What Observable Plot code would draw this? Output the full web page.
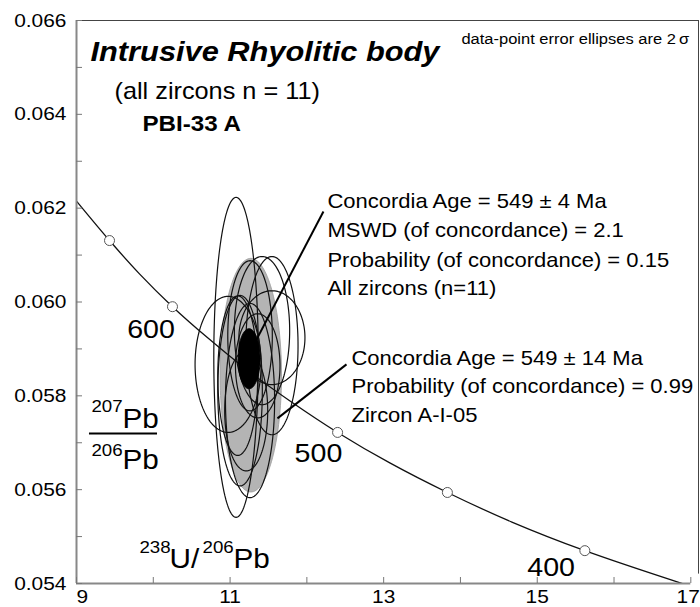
<!DOCTYPE html>
<html><head><meta charset="utf-8">
<script src="https://cdn.jsdelivr.net/npm/d3@7"></script>
<script src="https://cdn.jsdelivr.net/npm/@observablehq/plot@0.6"></script>
<style>body{margin:0;background:#fff} svg{display:block}</style>
</head><body><div id="chart"></div>
<script>
// ---- Concordia curve (238U/206Pb vs 207Pb/206Pb)
const curveX = [9.0, 9.43, 9.82, 10.25, 10.72, 11.23, 11.79, 12.40, 13.08, 13.83, 14.67, 15.62, 17.0];
const curveY = [0.06215, 0.06131, 0.06060, 0.05990, 0.05922, 0.05854, 0.05788, 0.05722, 0.05657, 0.05594, 0.05531, 0.05470, 0.05394];

// ---- age markers on the curve (Ma)
const markerAge = [650, 600, 550, 500, 450, 400];
const markerX = [9.43, 10.25, 11.23, 12.40, 13.83, 15.62];
const markerY = [0.06131, 0.05990, 0.05854, 0.05722, 0.05594, 0.05470];
const ageLabels = ["600", "500", "400"];
const ageLabelX = [9.66, 11.84, 14.87];
const ageLabelY = [0.05924, 0.05658, 0.05417];

// ---- data-point error ellipses (2 sigma): centre and half-axes
const ellCX = [11.078, 10.974, 11.545, 11.416, 11.545, 11.26, 11.13, 11.26, 11.10, 11.36, 11.21];
const ellCY = [0.05882, 0.05867, 0.05924, 0.05939, 0.05907, 0.05928, 0.05811, 0.05790, 0.05843, 0.05864, 0.05768];
const ellSX = [0.29, 0.43, 0.43, 0.36, 0.34, 0.29, 0.29, 0.32, 0.26, 0.29, 0.28];
const ellSY = [0.00341, 0.00145, 0.00100, 0.00158, 0.00190, 0.00160, 0.00203, 0.00207, 0.00170, 0.00111, 0.00128];

// ---- concordia age ellipses
const grayEll = {cx: 11.27, cy: 0.05844, sx: 0.40, sy: 0.00249};   // Zircon A-I-05, 549 ± 14 Ma
const blackEll = {cx: 11.247, cy: 0.05879, sx: 0.143, sy: 0.00064}; // all zircons, 549 ± 4 Ma

// ---- ticks
const xTickLabels = [11, 13, 15];
const xFirstLabel = 9, xLastLabel = 17;
const xTicks = [9, 10, 11, 12, 13, 14, 15, 16, 17];
const yTickLabels = [0.054, 0.056, 0.058, 0.060, 0.062, 0.064, 0.066];
const yTicks = [0.054, 0.055, 0.056, 0.057, 0.058, 0.059, 0.060, 0.061, 0.062, 0.063, 0.064, 0.065, 0.066];

// ---- annotations
const block1 = ["Concordia Age = 549 ± 4 Ma", "MSWD (of concordance) = 2.1", "Probability (of concordance) = 0.15", "All zircons (n=11)"];
const block1Y = [0.062014, 0.061375, 0.060747, 0.060139];
const block2 = ["Concordia Age = 549 ± 14 Ma", "Probability (of concordance) = 0.99", "Zircon A-I-05"];
const block2Y = [0.058647, 0.058050, 0.057432];
const leaderX1 = [11.28, 11.617], leaderY1 = [0.05900, 0.05752];
const leaderX2 = [12.216, 12.516], leaderY2 = [0.06193, 0.05867];

function ellipse(id, cx, cy, sx, sy) {
  return d3.range(0, 145).map(i => {
    const t = i / 144 * 2 * Math.PI;
    return {id, x: cx + sx * Math.cos(t), y: cy + sy * Math.sin(t)};
  });
}
const dataPts = ellCX.flatMap((cx, i) => ellipse(i, cx, ellCY[i], ellSX[i], ellSY[i]));
const grayPts = ellipse("g", grayEll.cx, grayEll.cy, grayEll.sx, grayEll.sy);
const blackPts = ellipse("b", blackEll.cx, blackEll.cy, blackEll.sx, blackEll.sy);
const curve = curveX.map((x, i) => ({x, y: curveY[i]}));
const markers = markerAge.map((a, i) => ({age: a, x: markerX[i], y: markerY[i]}));
const leaders = leaderX1.map((x, i) => ({x1: x, y1: leaderY1[i], x2: leaderX2[i], y2: leaderY2[i]}));

const T = (data, o) => Plot.text(data, {textAnchor: "start", lineAnchor: "bottom", fill: "#000", ...o});

const chart = Plot.plot({
  width: 700, height: 607,
  marginLeft: 76, marginRight: 2, marginTop: 20, marginBottom: 24,
  x: {domain: [9, 17.1], axis: null},
  y: {domain: [0.054, 0.066], axis: null},
  style: {fontFamily: "'Liberation Sans', Arial, sans-serif", background: "#fff", overflow: "hidden"},
  marks: [
    Plot.line(grayPts, {x: "x", y: "y", fill: "#b4b4b4", stroke: "#9a9a9a", strokeWidth: 0.8}),
    Plot.line(dataPts, {x: "x", y: "y", z: "id", stroke: "#111", strokeWidth: 1.2, fill: "none"}),
    Plot.line(curve, {x: "x", y: "y", stroke: "#111", strokeWidth: 1.3, curve: "catmull-rom", clip: true}),
    Plot.dot(markers, {x: "x", y: "y", r: 5, fill: "#fff", stroke: "#555", strokeWidth: 1}),
    Plot.line(blackPts, {x: "x", y: "y", fill: "#000", stroke: "#000", strokeWidth: 1}),
    Plot.link(leaders, {x1: "x1", y1: "y1", x2: "x2", y2: "y2", stroke: "#000", strokeWidth: 2}),
    // frame
    Plot.ruleY([0.066], {x1: 9, x2: 17.1, stroke: "#444", strokeWidth: 1}),
    Plot.ruleX([17.1], {y1: 0.0542, y2: 0.066, stroke: "#444", strokeWidth: 1}),
    Plot.ruleX([9], {y1: 0.054, y2: 0.066, stroke: "#888", strokeWidth: 2}),
    Plot.ruleY([0.054], {x1: 9, x2: 17, stroke: "#888", strokeWidth: 2}),
    // inward ticks
    Plot.ruleY(yTicks, {y: d => d, x1: 9, x2: 9, insetRight: -6, stroke: "#777", strokeWidth: 1}),
    Plot.ruleX(xTicks, {x: d => d, y1: 0.054, y2: 0.054, insetBottom: 6, stroke: "#777", strokeWidth: 1}),
    // tick labels
    Plot.text(yTickLabels, {x: 9, y: d => d, text: d => d3.format(".3f")(d), textAnchor: "end", dx: -10, fontSize: 19, fill: "#000"}),
    Plot.text(xTickLabels, {x: d => d, y: 0.054, text: d => String(d), lineAnchor: "top", dy: 6, fontSize: 19, fill: "#000"}),
    Plot.text([xFirstLabel], {x: d => d, y: 0.054, text: d => String(d), textAnchor: "start", lineAnchor: "top", dy: 6, fontSize: 19, fill: "#000"}),
    Plot.text([xLastLabel], {x: d => d, y: 0.054, text: d => String(d), textAnchor: "end", dx: 9, lineAnchor: "top", dy: 6, fontSize: 19, fill: "#000"}),
    // titles
    T(["Intrusive Rhyolitic body"], {x: 9.182, y: 0.065147, text: d => d, fontSize: 28, fontWeight: "bold", fontStyle: "italic"}),
    T(["data-point error ellipses are 2\u2009σ"], {x: 14.013, y: 0.065503, text: d => d, fontSize: 15}),
    T(["(all zircons n = 11)"], {x: 9.495, y: 0.064337, text: d => d, fontSize: 23}),
    T(["PBI-33 A"], {x: 9.859, y: 0.063655, text: d => d, fontSize: 22, fontWeight: "bold"}),
    // result blocks
    T(block1, {x: 12.268, y: (d, i) => block1Y[i], text: d => d, fontSize: 20}),
    T(block2, {x: 12.581, y: (d, i) => block2Y[i], text: d => d, fontSize: 20}),
    // age labels
    T(ageLabels, {x: (d, i) => ageLabelX[i], y: (d, i) => ageLabelY[i], text: d => d, fontSize: 26}),
    // axis titles
    T(["207"], {x: 9.195, y: 0.057645, text: d => d, fontSize: 17}),
    T(["Pb"], {x: 9.599, y: 0.057304, text: d => d, fontSize: 27}),
    Plot.ruleY([0.057197], {x1: 9.169, x2: 10.055, stroke: "#000", strokeWidth: 2}),
    T(["206"], {x: 9.195, y: 0.056728, text: d => d, fontSize: 17}),
    T(["Pb"], {x: 9.599, y: 0.056451, text: d => d, fontSize: 27}),
    T(["238"], {x: 9.820, y: 0.054640, text: d => d, fontSize: 17}),
    T(["U/"], {x: 10.211, y: 0.054341, text: d => d, fontSize: 27}),
    T(["206"], {x: 10.641, y: 0.054640, text: d => d, fontSize: 17}),
    T(["Pb"], {x: 11.044, y: 0.054341, text: d => d, fontSize: 27})
  ]
});
// the reference figure is stretched horizontally: widen every glyph around its anchor
d3.select(chart).selectAll("text").each(function() {
  const t = this.getAttribute("transform") || "";
  this.setAttribute("transform", t + " scale(1.1,1)");
});
document.getElementById("chart").appendChild(chart);
</script>
</body></html>
